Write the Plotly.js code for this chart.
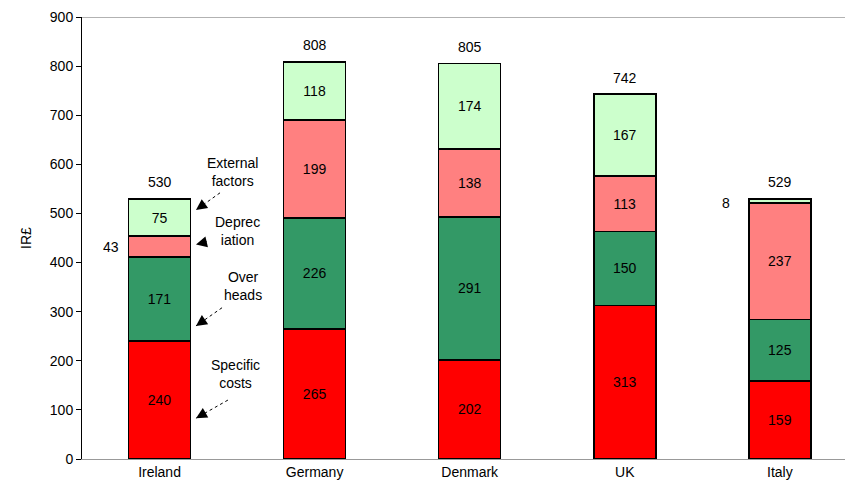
<!DOCTYPE html>
<html>
<head>
<meta charset="utf-8">
<script src="https://cdn.plot.ly/plotly-3.0.1.min.js"></script>
<style>html,body{margin:0;padding:0;background:#fff}#chart{width:845px;height:485px}</style>
</head>
<body>
<div id="chart"></div>
<script>
const countries = ["Ireland", "Germany", "Denmark", "UK", "Italy"];
const specificCosts = [240, 265, 202, 313, 159];
const overheads = [171, 226, 291, 150, 125];
const depreciation = [43, 199, 138, 113, 237];
const externalFactors = [75, 118, 174, 167, 8];
const totals = [530, 808, 805, 742, 529];
const yTicks = [0, 100, 200, 300, 400, 500, 600, 700, 800, 900];

const xIdx = countries.map((c, i) => i);
const font = "Liberation Sans, Arial, sans-serif";
function lbl(v) { return v.map(x => x < 50 ? "" : String(x)); }

function series(name, vals, color) {
  return {
    type: "bar", name: name, x: xIdx, y: vals,
    width: 0.4,
    marker: {color: color, line: {color: "#000", width: 1.5}},
    text: lbl(vals), textposition: "inside", insidetextanchor: "middle",
    textfont: {family: font, size: 14, color: "#000"},
    constraintext: "none", hoverinfo: "skip", cliponaxis: false
  };
}

const data = [
  series("Specific costs", specificCosts, "#FF0000"),
  series("Overheads", overheads, "#339966"),
  series("Depreciation", depreciation, "#FF8080"),
  series("External factors", externalFactors, "#CCFFCC")
];

const annotations = [];
const shapes = [
  {type: "line", xref: "paper", yref: "y", x0: 0, x1: 1, y0: 900, y1: 900,
   line: {color: "#999", width: 1.5}}
];
totals.forEach((t, i) => {
  annotations.push({x: i, y: t, xref: "x", yref: "y", text: String(t), showarrow: false,
    yanchor: "bottom", yshift: 7, font: {family: font, size: 14, color: "#000"}});
});
// small values shown outside the bars
annotations.push({x: -0.31, y: specificCosts[0] + overheads[0] + depreciation[0] / 2, xref: "x", yref: "y",
  text: String(depreciation[0]), showarrow: false, font: {family: font, size: 14, color: "#000"}});
annotations.push({x: 3.65, y: 521, xref: "x", yref: "y", text: String(externalFactors[4]), showarrow: false,
  font: {family: font, size: 14, color: "#000"}});

// callout labels with dashed arrows
const callouts = [
  {text: "External<br>factors", tx: 0.468, ty: 585, hx: 0.235, hy: 507, tlx: 0.39, tly: 542, f: 0.3},
  {text: "Deprec<br>iation", tx: 0.5, ty: 464, hx: 0.235, hy: 437, tlx: 0.315, tly: 443, f: 1.0},
  {text: "Over<br>heads", tx: 0.535, ty: 352, hx: 0.235, hy: 271, tlx: 0.403, tly: 308, f: 0.3},
  {text: "Specific<br>costs", tx: 0.49, ty: 173, hx: 0.235, hy: 83, tlx: 0.441, tly: 120, f: 0.3}
];
callouts.forEach(c => {
  annotations.push({x: c.tx, y: c.ty, xref: "x", yref: "y", text: c.text, showarrow: false,
    font: {family: font, size: 14, color: "#000"}, align: "center"});
  if (c.f < 1) {
    shapes.push({type: "line", xref: "x", yref: "y", x0: c.tlx, y0: c.tly, x1: c.hx, y1: c.hy,
      line: {color: "#000", width: 1, dash: "dot"}});
  }
  annotations.push({x: c.hx, y: c.hy, xref: "x", yref: "y", text: "", showarrow: true,
    axref: "x", ayref: "y", ax: c.hx + (c.tlx - c.hx) * c.f, ay: c.hy + (c.tly - c.hy) * c.f,
    arrowhead: 2, arrowsize: 2.2, arrowwidth: 1, arrowcolor: "#000", standoff: 0});
});

const layout = {
  width: 845, height: 485,
  margin: {l: 82, r: 0, t: 17, b: 26},
  barmode: "stack",
  showlegend: false,
  paper_bgcolor: "#fff", plot_bgcolor: "#fff",
  font: {family: font, size: 14, color: "#000"},
  xaxis: {
    range: [-0.5, 4.42], tickmode: "array", tickvals: xIdx, ticktext: countries,
    showgrid: false, zeroline: false, showline: true, linecolor: "#999", linewidth: 1,
    ticks: "", tickfont: {family: font, size: 14, color: "#000"}, fixedrange: true
  },
  yaxis: {
    range: [0, 900], tickmode: "array", tickvals: yTicks,
    showgrid: false, zeroline: false, showline: true, linecolor: "#000", linewidth: 1,
    ticks: "outside", ticklen: 5, tickcolor: "#000",
    tickfont: {family: font, size: 14, color: "#000"},
    title: {text: "IR£", font: {family: font, size: 14, color: "#000"}, standoff: 14},
    fixedrange: true
  },
  shapes: shapes,
  annotations: annotations
};

Plotly.newPlot("chart", data, layout, {displayModeBar: false, staticPlot: true});
</script>
</body>
</html>
